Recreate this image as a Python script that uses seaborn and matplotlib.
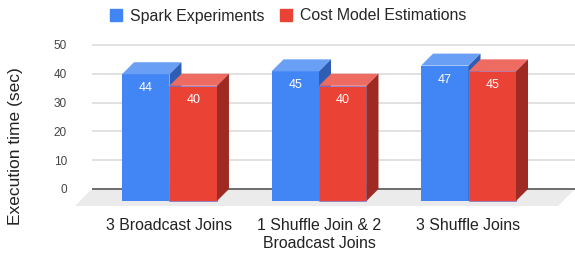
import matplotlib
matplotlib.use("Agg")
import matplotlib.pyplot as plt
from matplotlib.patches import Polygon
from matplotlib.lines import Line2D
import seaborn as sns
import pandas as pd

categories = ["3 Broadcast Joins", "1 Shuffle Join & 2\nBroadcast Joins", "3 Shuffle Joins"]
spark_experiments = [44, 45, 47]
cost_model = [40, 40, 45]
series_names = ["Spark Experiments", "Cost Model Estimations"]
y_ticks = [0, 10, 20, 30, 40, 50]

# front / top / side shades for the fake 3d look
front_colors = ["#4285F4", "#EA4335"]
top_colors = ["#6A9FF6", "#EE6B61"]
side_colors = ["#2F5DB3", "#9E2A23"]

sns.set_style("white")
plt.rcParams["font.family"] = ["Liberation Sans", "DejaVu Sans"]

df = pd.DataFrame({
    "category": categories * 2,
    "series": [series_names[0]] * len(categories) + [series_names[1]] * len(categories),
    "value": spark_experiments + cost_model,
})

fig = plt.figure(figsize=(5.75, 2.54), dpi=100)
ax = fig.add_axes([0.1304, 0.189, 0.8696, 0.634])

sns.barplot(
    data=df, x="category", y="value", hue="series",
    hue_order=series_names, palette=front_colors,
    width=0.635, saturation=1, legend=False, ax=ax,
)

x0, x1 = -0.632, 2.712
y0, y1 = -5.9, 50
ax.set_xlim(x0, x1)
ax.set_ylim(y0, y1)

# depth of bars / floor converted from pixels to data units
px_x = 500 / (x1 - x0)
px_y = 161 / (y1 - y0)
dx, dy = 12 / px_x, 12 / px_y
fdx = 17 / px_x

# floor
ax.add_patch(Polygon([(x0, y0), (x0 + fdx, 0), (x1, 0), (x1 - fdx, y0)],
                     closed=True, facecolor="#ebebeb", edgecolor="none",
                     zorder=0, clip_on=False))

# back-plane gridlines
ax.hlines(y_ticks[1:], x0 + fdx, x1, color="#d9d9d9", lw=1.1, zorder=0.5, clip_on=False)
ax.hlines(0, x0 + fdx, x1, color="#555555", lw=1.2, zorder=1, clip_on=False)

for i, cont in enumerate(ax.containers):
    for p in cont.patches:
        bx, w, h = p.get_x(), p.get_width(), p.get_height()
        p.set_y(-dy)
        p.set_zorder(2 + i)
        p.set_clip_on(False)
        if i == 1:
            p.set_edgecolor("#7b78d8")
            p.set_linewidth(0.5)
        else:
            p.set_linewidth(0)
        top = Polygon([(bx, h - dy), (bx + w, h - dy), (bx + w + dx, h), (bx + dx, h)],
                      closed=True, facecolor=top_colors[i], edgecolor="none",
                      zorder=2 + i, clip_on=False)
        side = Polygon([(bx + w, -dy), (bx + w + dx, 0), (bx + w + dx, h), (bx + w, h - dy)],
                       closed=True, facecolor=side_colors[i], edgecolor="none",
                       zorder=2 + i, clip_on=False)
        ax.add_patch(top)
        ax.add_patch(side)
        ax.annotate(f"{h:.0f}", (bx + w / 2, h - dy), xytext=(0, -14 * 0.72),
                    textcoords="offset points", ha="center", va="center",
                    color="white", fontsize=9, zorder=6)

sns.despine(ax=ax, left=True, bottom=True)
ax.set_yticks(y_ticks)
ax.tick_params(axis="y", length=0, pad=5.8, labelsize=8.5, labelcolor="#444444")
ax.tick_params(axis="x", length=0, pad=9, labelsize=11.4, labelcolor="#222222")
ax.set_xlabel("")
ax.set_ylabel("Execution time (sec)", fontsize=12.5, color="#222222")
ax.yaxis.set_label_coords(-0.104, 0.373)

handles = [Line2D([], [], marker="s", linestyle="none", markersize=9, color=c)
           for c in front_colors]
fig.legend(handles, series_names, loc="center", bbox_to_anchor=(0.5, 1 - 16 / 254),
           ncol=2, frameon=False, fontsize=11.4, handletextpad=0.4,
           columnspacing=0.84, handlelength=1.0, borderpad=0)

fig.savefig("out.png", dpi=100)
